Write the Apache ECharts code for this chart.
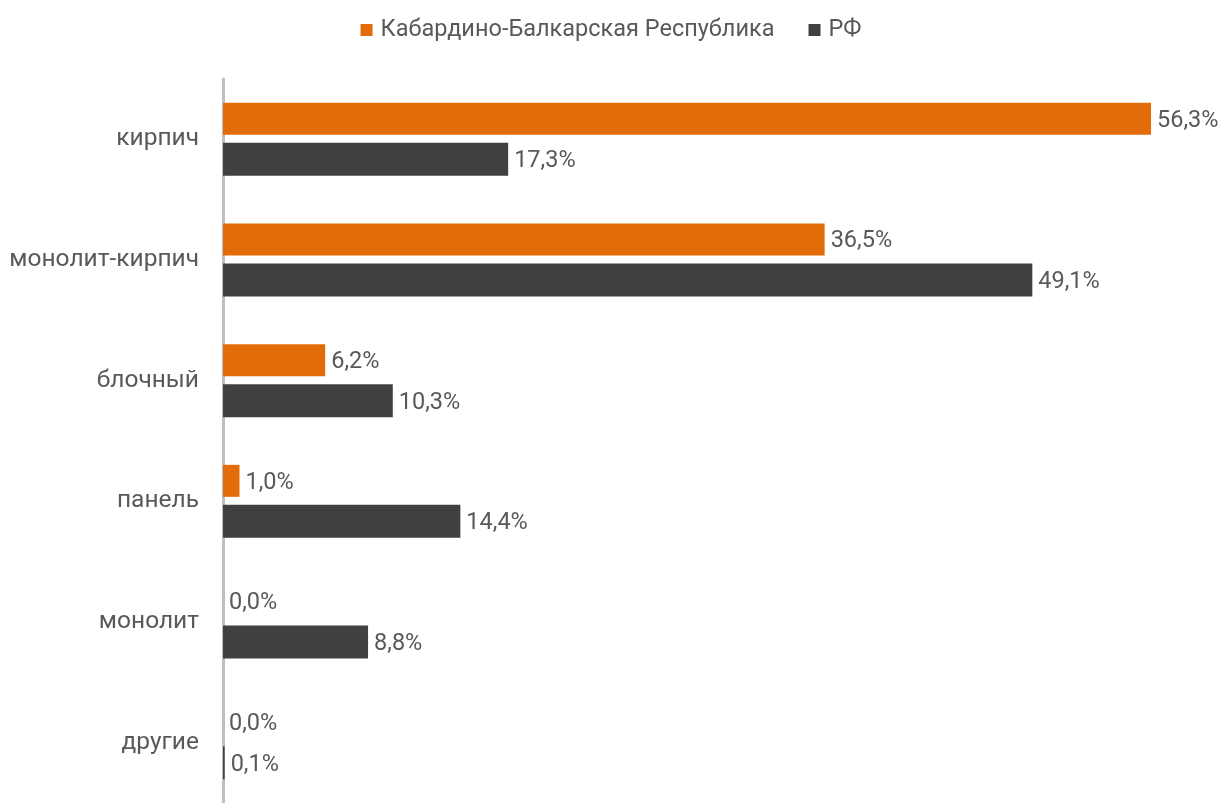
<!DOCTYPE html>
<html>
<head>
<meta charset="utf-8">
<script src="https://cdn.jsdelivr.net/npm/echarts@6/dist/echarts.min.js"></script>
<style>
html,body{margin:0;padding:0;background:#fff;}
#chart{width:1222px;height:803px;}
</style>
</head>
<body>
<div id="chart"></div>
<script>
const categories = ['кирпич', 'монолит-кирпич', 'блочный', 'панель', 'монолит', 'другие'];
const seriesNames = ['Кабардино-Балкарская Республика', 'РФ'];
const kbrValues = [56.3, 36.5, 6.2, 1.0, 0.0, 0.0];
const rfValues = [17.3, 49.1, 10.3, 14.4, 8.8, 0.1];

const chart = echarts.init(document.getElementById('chart'));
const fmt = p => p.value.toFixed(1).replace('.', ',') + '%';
const labelStyle = {
  show: true, position: 'right', distance: 6, offset: [0, 2],
  formatter: fmt, color: '#595959', fontSize: 23.5, fontFamily: 'Roboto'
};
chart.setOption({
  animation: false,
  textStyle: { fontFamily: 'Roboto' },
  legend: {
    top: 13, left: 'center',
    itemWidth: 12, itemHeight: 12, itemGap: 34,
    icon: 'rect',
    textStyle: { color: '#595959', fontSize: 23.5, fontFamily: 'Roboto', padding: [0, 0, 0, 3] },
    data: seriesNames
  },
  grid: { left: 223, top: 79, width: 989, height: 732, containLabel: false },
  xAxis: {
    type: 'value', min: 0, max: 60,
    show: false
  },
  yAxis: {
    type: 'category', data: categories, inverse: true,
    axisLine: { show: true, lineStyle: { color: '#bfbfbf', width: 3 } },
    axisTick: { show: false },
    axisLabel: { color: '#595959', fontSize: 24.5, fontFamily: 'Roboto', margin: 24, padding: [4, 0, 0, 0] }
  },
  series: [
    {
      name: seriesNames[0], type: 'bar', data: kbrValues,
      barWidth: 32, barGap: '25%',
      itemStyle: { color: '#e36c0a' },
      label: labelStyle
    },
    {
      name: seriesNames[1], type: 'bar', data: rfValues,
      barWidth: 33,
      itemStyle: { color: '#404040' },
      label: labelStyle
    }
  ]
});
</script>
</body>
</html>
